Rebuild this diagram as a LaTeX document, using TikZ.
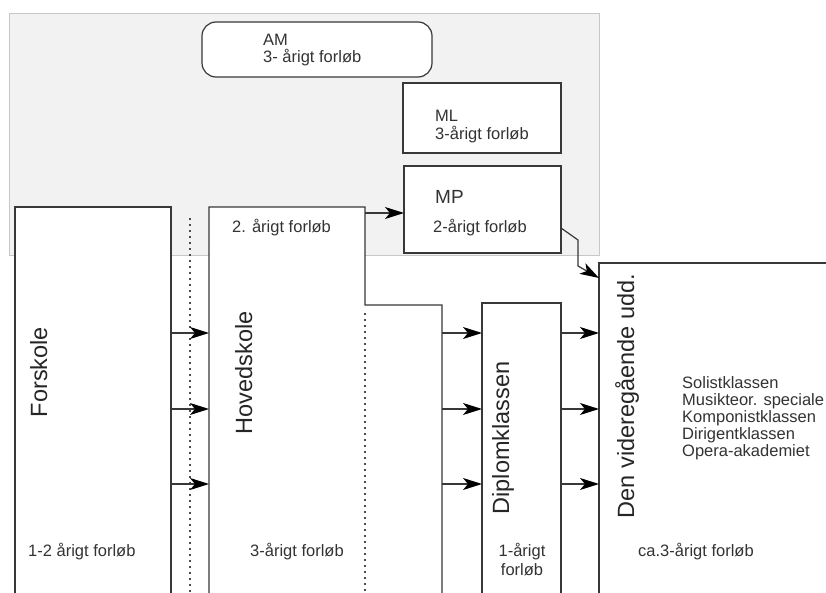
\documentclass[tikz,border=0pt]{standalone}
\usepackage{fontspec}
\setmainfont{Liberation Sans}
\usetikzlibrary{arrows.meta}
\begin{document}
\begin{tikzpicture}[x=1bp,y=-1bp,
  ln/.style={line width=1.2bp, draw=black!78},
  box/.style={ln, fill=white, rectangle, inner sep=0pt, outer sep=0pt, anchor=north west},
  frame/.style={rectangle, inner sep=0pt, outer sep=0pt, anchor=north west},
  arr/.style={ln, -{Stealth[length=19bp,width=12bp,inset=5bp,color=black]}},
  dots/.style={line width=1.2bp, draw=black!70, dash pattern=on 2bp off 4bp},
  big/.style={font=\fontsize{23.5bp}{28bp}\selectfont, text=black!85, rotate=90, anchor=base, inner sep=0pt},
  sm/.style={font=\fontsize{16.5bp}{18bp}\selectfont, text=black!80, inner sep=0pt, anchor=base west},
  smc/.style={sm, anchor=base}
]
\useasboundingbox (0,0) rectangle (826,593);
\clip (0,0) rectangle (826,593);

% grey background panel
\node[frame, fill=black!5, draw=black!22, line width=0.8bp, minimum width=590bp, minimum height=242bp] (bg) at (9,13) {};

% boxes
\node[box, rounded corners=14bp, minimum width=230bp, minimum height=55bp] (am) at (202,22) {};
\node[box, minimum width=158bp, minimum height=70bp] (ml) at (403,83) {};
\node[box, minimum width=157bp, minimum height=87bp] (mp) at (404,166) {};
\node[box, minimum width=156bp, minimum height=400bp] (fors) at (15,207) {};
\node[frame, fill=white, minimum width=156bp, minimum height=400bp] (hov) at (209,207) {};
\node[frame, minimum width=77bp, minimum height=300bp] (ext) at (365,305) {};
\node[box, minimum width=79bp, minimum height=300bp] (dipl) at (482,303) {};
\node[box, minimum width=240bp, minimum height=340bp] (den) at (599,263) {};

% Hovedskole outline and its extension
\draw[ln] (hov.south west) -- (hov.north west) -- (hov.north east) -- (ext.north west) -- (ext.north east) -- (ext.south east);
\draw[dots] ([yshift=-8bp]ext.north west) -- (ext.south west);
\coordinate (d1) at (190,218);
\draw[dots] (d1) -- (d1 |- fors.south);

% rotated titles
\node[big] (lfors) at (47,372) {Forskole};
\node[big] (lhov) at (252,373) {Hovedskole};
\node[big] (ldip) at (509,438) {Diplomklassen};
\node[big] (lden) at (634,396) {Den videregående udd.};

% small labels
\node[sm] (tam1) at (263,46) {AM};
\node[sm] (tam2) at (263,63) {3- årigt forløb};
\node[sm] (tml1) at (435,122) {ML};
\node[sm] (tml2) at (435,140) {3-årigt forløb};
\node[sm, font=\fontsize{19bp}{22bp}\selectfont] (tmp1) at (435,204) {MP};
\node[sm] (tmp2) at (433,233) {2-årigt forløb};
\node[sm] (thov1) at (232,233) {2. årigt forløb};
\node[sm] (tfors) at (28,556) {1-2 årigt forløb};
\node[sm] (thov2) at (250,556) {3-årigt forløb};
\node[smc] (tdip1) at (522,556) {1-årigt};
\node[smc] (tdip2) at (522,575) {forløb};
\node[sm] (tden) at (638,556) {ca.3-årigt forløb};
\node[sm] (k1) at (682,388) {Solistklassen};
\node[sm] (k2) at (682,405) {Musikteor. speciale};
\node[sm] (k3) at (682,422) {Komponistklassen};
\node[sm] (k4) at (682,439) {Dirigentklassen};
\node[sm] (k5) at (682,456) {Opera-akademiet};

% arrows
\coordinate (r1) at (0,333);
\coordinate (r2) at (0,409);
\coordinate (r3) at (0,484);
\foreach \r in {r1,r2,r3} {
  \draw[arr] (fors.east |- \r) -- (hov.west |- \r);
  \draw[arr] (ext.east |- \r) -- (dipl.west |- \r);
  \draw[arr] (dipl.east |- \r) -- (den.west |- \r);
}
\coordinate (hm) at (0,213);
\draw[arr] (hov.east |- hm) -- (mp.west |- hm);
\coordinate (m1) at (0,228);
\coordinate (b1) at (578,240);
\coordinate (b2) at (578,266);
\coordinate (dt) at (0,278);
\draw[arr] (mp.east |- m1) -- (b1) -- (b2) -- (den.west |- dt);
\end{tikzpicture}
\end{document}
